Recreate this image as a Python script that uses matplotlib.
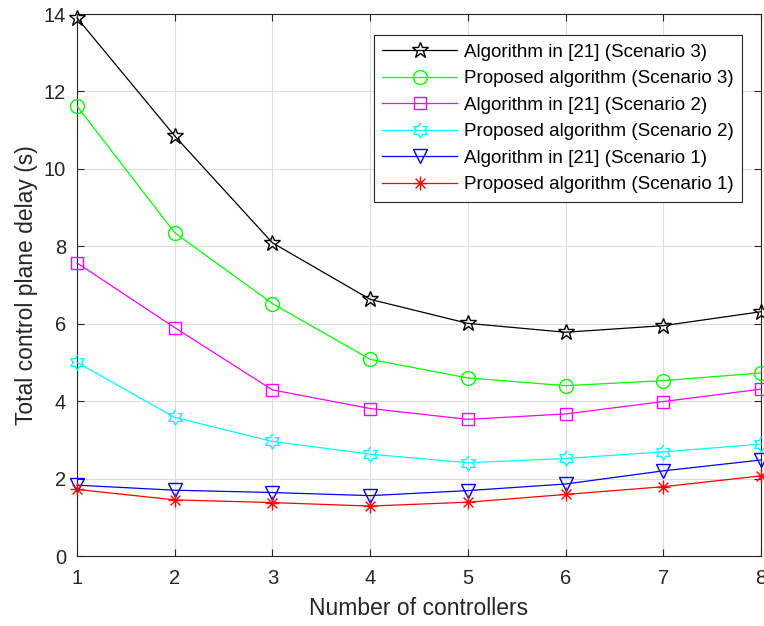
import matplotlib
matplotlib.use("Agg")
import matplotlib.pyplot as plt
from matplotlib.path import Path
import numpy as np

plt.rcParams['font.family'] = ['Liberation Sans', 'DejaVu Sans']

controllers = [1, 2, 3, 4, 5, 6, 7, 8]

alg21_s3 = [13.9, 10.85, 8.09, 6.63, 6.01, 5.78, 5.95, 6.31]
prop_s3 = [11.62, 8.35, 6.52, 5.08, 4.60, 4.40, 4.53, 4.73]
alg21_s2 = [7.57, 5.90, 4.29, 3.81, 3.53, 3.67, 3.99, 4.31]
prop_s2 = [5.00, 3.58, 2.96, 2.63, 2.41, 2.52, 2.69, 2.89]
alg21_s1 = [1.83, 1.70, 1.64, 1.56, 1.69, 1.86, 2.20, 2.48]
prop_s1 = [1.72, 1.45, 1.38, 1.29, 1.39, 1.59, 1.79, 2.07]

labels = ['Algorithm in [21] (Scenario 3)',
          'Proposed algorithm (Scenario 3)',
          'Algorithm in [21] (Scenario 2)',
          'Proposed algorithm (Scenario 2)',
          'Algorithm in [21] (Scenario 1)',
          'Proposed algorithm (Scenario 1)']

# hexagram (6-point star) and asterisk markers like matlab
ang = np.pi / 2 + np.arange(12) * np.pi / 6
rad = np.where(np.arange(12) % 2 == 0, 1.0, 0.58)
hexagram = Path(np.column_stack([rad * np.cos(ang), rad * np.sin(ang)]))
c = np.cos(np.pi / 4)
asterisk = Path([(0, -1), (0, 1), (-1, 0), (1, 0), (-c, -c), (c, c), (-c, c), (c, -c)],
                [Path.MOVETO, Path.LINETO] * 4)

series = [alg21_s3, prop_s3, alg21_s2, prop_s2, alg21_s1, prop_s1]
colors = ['black', '#00ff00', '#ff00ff', '#00ffff', '#0000ff', '#ff0000']
markers = ['*', 'o', 's', hexagram, 'v', asterisk]
msizes = [12, 10, 8, 11, 10, 10]

fig = plt.figure(figsize=(7.64, 6.26), dpi=100)
ax = fig.add_axes([0.1008, 0.1118, 0.8952, 0.8658])

for ys, col, mk, ms, lab in zip(series, colors, markers, msizes, labels):
    ax.plot(controllers, ys, color=col, marker=mk, markersize=ms, markerfacecolor='none',
            markeredgecolor=col, markeredgewidth=1.0, linewidth=0.9, label=lab, clip_on=False, zorder=3)

ax.set_xlim(1, 8)
ax.set_ylim(0, 14)
ax.set_xticks(controllers)
ax.set_yticks(np.arange(0, 15, 2))
ax.grid(True, color='#dcdcdc', linewidth=0.8)
ax.set_axisbelow(True)
ax.tick_params(direction='in', top=True, right=True, labelsize=14.5, colors='#262626', length=5)
ax.tick_params(axis='x', pad=9)
ax.tick_params(axis='y', pad=8)
for sp in ax.spines.values():
    sp.set_color('#262626')
    sp.set_linewidth(0.8)

ax.set_xlabel('Number of controllers', fontsize=16.5, color='#262626', labelpad=7)
ax.set_ylabel('Total control plane delay (s)', fontsize=16.5, color='#262626', labelpad=4)

leg = ax.legend(loc='upper right', bbox_to_anchor=(0.972, 0.961), fontsize=13.5, handlelength=4,
                frameon=True, fancybox=False, edgecolor='#262626', framealpha=1,
                borderpad=0.45, labelspacing=0.5, handletextpad=0.35, borderaxespad=0)
leg.get_frame().set_linewidth(0.8)

fig.savefig('out.png', dpi=100)
